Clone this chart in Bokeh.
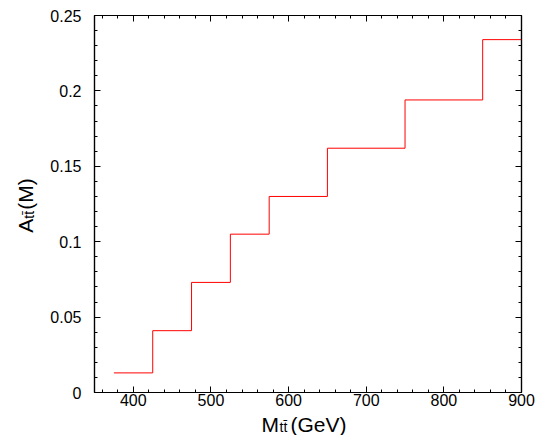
from bokeh.plotting import figure
from bokeh.models import Range1d, LinearAxis, FixedTicker, Label
from bokeh.layouts import row, column
from bokeh.embed import file_html
from bokeh.resources import INLINE

# data: bin edges in M_tt (GeV) and asymmetry per bin
bin_edges = [375, 425, 475, 525, 575, 650, 750, 850, 900]
asym = [0.013, 0.041, 0.073, 0.105, 0.130, 0.162, 0.194, 0.234]

x_major = [400, 500, 600, 700, 800, 900]
x_minor = list(range(360, 901, 20))
y_major = [0, 0.05, 0.1, 0.15, 0.2, 0.25]
y_labels = ["0", "0.05", "0.1", "0.15", "0.2", "0.25"]
y_minor = [i / 100 for i in range(0, 26)]

FONT = "Liberation Sans"
LAB_SIZE = "21px"
SUB_SIZE = "14px"
TICK_SIZE = "16px"

y_rng = Range1d(0, 0.25)
p = figure(width=506, height=412, output_backend="svg", toolbar_location=None,
           x_range=Range1d(350, 900), y_range=y_rng,
           min_border_left=54, min_border_right=25, min_border_top=15, min_border_bottom=20,
           x_axis_location=None, y_axis_location=None)
p.grid.visible = False
p.outline_line_color = "black"
p.outline_line_width = 1.2
p.background_fill_color = "white"
p.border_fill_color = "white"

p.step(bin_edges, asym + [asym[-1]], mode="after", line_color="#ff0000", line_width=1)

def make_axis(kind, show_labels):
    ax = LinearAxis()
    if kind == "x":
        ticks = x_major
        ax.ticker = FixedTicker(ticks=x_major, minor_ticks=x_minor)
    else:
        ticks = y_major
        ax.ticker = FixedTicker(ticks=y_major, minor_ticks=y_minor)
    ax.major_tick_in = 6
    ax.major_tick_out = 0
    ax.minor_tick_in = 3
    ax.minor_tick_out = 0
    ax.axis_line_color = "black"
    ax.axis_line_width = 1.2
    ax.major_tick_line_width = 1
    ax.minor_tick_line_width = 1
    if show_labels:
        if kind == "y":
            ax.major_label_overrides = {v: s for v, s in zip(y_major, y_labels)}
        ax.major_label_text_font = FONT
        ax.major_label_text_font_size = TICK_SIZE
        ax.major_label_text_color = "black"
        ax.major_label_standoff = 1 if kind == "x" else 13
    else:
        ax.major_label_overrides = {v: "" for v in ticks}
        ax.major_label_text_font_size = "1px"
        ax.major_label_standoff = 0
    return ax

p.add_layout(make_axis("x", True), "below")
p.add_layout(make_axis("y", True), "left")
p.add_layout(make_axis("x", False), "above")
p.add_layout(make_axis("y", False), "right")


def label_fig(w, h, yr):
    f = figure(width=w, height=h, output_backend="svg", toolbar_location=None,
               x_range=Range1d(0, w), y_range=yr, min_border=0,
               x_axis_location=None, y_axis_location=None)
    f.grid.visible = False
    f.outline_line_color = None
    f.background_fill_color = "white"
    f.border_fill_color = "white"
    return f

def add_text(f, x, y, text, size, xo=0, yo=0, angle=0.0):
    f.add_layout(Label(x=x, y=y, x_offset=xo, y_offset=yo, text=text, angle=angle,
                       text_font=FONT, text_font_size=size, text_baseline="alphabetic",
                       text_align="left", text_color="black"))

# y axis label: A_{t tbar}(M), rotated; its frame lines up with the plot frame
ylab = label_fig(40, 412, y_rng)
ya = 0.106
add_text(ylab, 25, ya, "A", LAB_SIZE, 0, 0, 1.5707963)
add_text(ylab, 28, ya, "tt\u0304", SUB_SIZE, 0, 14, 1.5707963)
add_text(ylab, 25, ya, "(M)", LAB_SIZE, 0, 23, 1.5707963)

# x axis label: M_{t tbar} (GeV), anchored to the top edge of its strip
xlab = label_fig(546, 23, Range1d(0, 23))
add_text(xlab, 261, 23, "M", LAB_SIZE, 0, -12)
add_text(xlab, 279, 23, "tt\u0304", SUB_SIZE, 0, -14)
add_text(xlab, 290, 23, "(GeV)", LAB_SIZE, 0, -12)

layout = column(row(ylab, p, spacing=0), xlab, spacing=0)

open("out.html", "w").write(file_html(layout, INLINE))
